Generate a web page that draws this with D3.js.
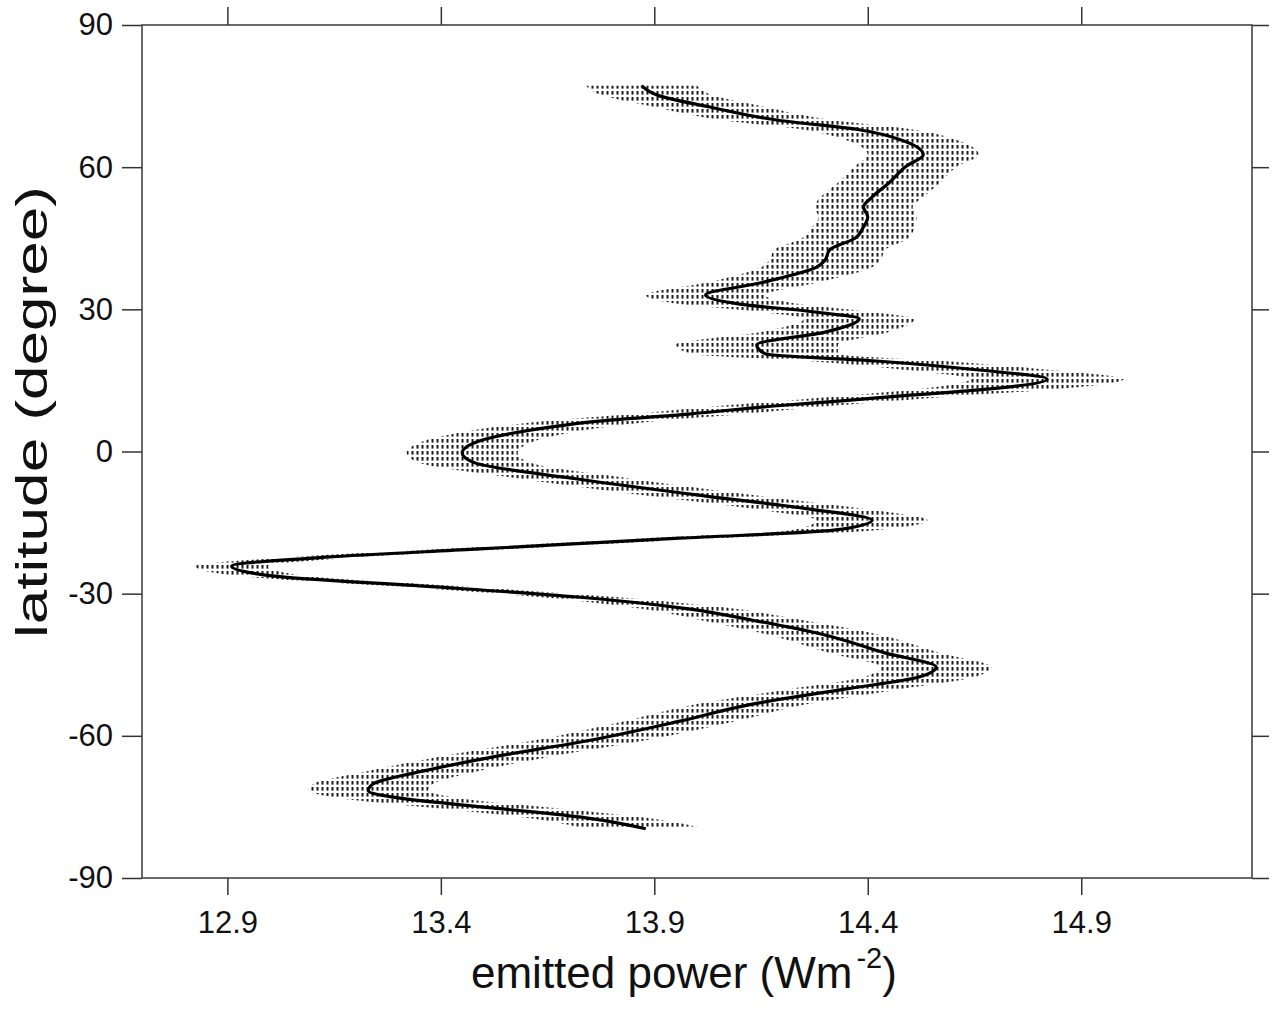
<!DOCTYPE html>
<html><head><meta charset="utf-8">
<script src="https://cdn.jsdelivr.net/npm/d3@7"></script>
<style>
body{margin:0;background:#fff}
svg{display:block}
text{font-family:"Liberation Sans",Arial,Helvetica,sans-serif;fill:#111}
</style>
</head><body>
<svg id="chart" width="1274" height="1010"></svg>
<script>
// latitude (degree) of each sample
const latitude = [77.2,75.1,72.7,69.9,67.9,65.7,62.6,60.2,56.7,53.7,51.6,49.5,47.4,45.0,42.5,40.4,38.9,35.6,33.0,31.1,29.6,28.0,25.2,22.5,20.6,19.1,17.2,15.3,13.0,11.9,10.7,9.6,7.9,6.4,5.2,3.9,2.2,-0.3,-2.4,-5.8,-9.4,-12.1,-14.5,-16.6,-18.3,-20.6,-22.3,-24.2,-26.3,-28.4,-30.7,-33.2,-35.6,-38.5,-42.5,-45.5,-47.6,-50.1,-53.3,-56.9,-61.1,-64.5,-67.4,-70.2,-71.6,-73.1,-75.2,-77.3,-79.6];
// emitted power (W m^-2)
const power = [13.87,13.91,14.03,14.19,14.38,14.48,14.53,14.49,14.45,14.41,14.39,14.40,14.39,14.37,14.31,14.30,14.28,14.15,14.02,14.10,14.26,14.38,14.30,14.14,14.16,14.42,14.66,14.82,14.66,14.50,14.34,14.18,13.98,13.77,13.66,13.57,13.49,13.45,13.48,13.72,14.02,14.26,14.41,14.32,13.96,13.48,13.13,12.91,13.01,13.36,13.72,13.98,14.13,14.29,14.44,14.56,14.52,14.35,14.13,13.96,13.74,13.52,13.36,13.24,13.23,13.30,13.52,13.74,13.88];
// half-width of the stippled uncertainty band (W m^-2)
const powerErr = [0.13,0.13,0.13,0.13,0.13,0.13,0.13,0.12,0.12,0.12,0.115,0.115,0.12,0.125,0.13,0.13,0.13,0.13,0.14,0.14,0.13,0.13,0.15,0.19,0.17,0.16,0.17,0.18,0.16,0.14,0.13,0.13,0.13,0.13,0.13,0.13,0.13,0.13,0.13,0.13,0.13,0.13,0.13,0.10,0.08,0.08,0.08,0.085,0.08,0.08,0.09,0.11,0.12,0.13,0.13,0.13,0.13,0.13,0.13,0.13,0.13,0.13,0.13,0.14,0.14,0.14,0.14,0.14,0.14];
const xTicks = [12.9,13.4,13.9,14.4,14.9];
const xTickLabels = ["12.9","13.4","13.9","14.4","14.9"];
const yTicks = [90,60,30,0,-30,-60,-90];
const yTickLabels = ["90","60","30","0","-30","-60","-90"];

const data = latitude.map((lat,i)=>({lat, p:power[i], e:powerErr[i]}));

const svg = d3.select("#chart");
const L=142, R=1252, T=25, B=878;
const x = d3.scaleLinear().domain([12.7,15.3]).range([L,R]);
const y = d3.scaleLinear().domain([-90,90]).range([B,T]);

const defs = svg.append("defs");
const pat = defs.append("pattern").attr("id","stip").attr("patternUnits","userSpaceOnUse")
  .attr("width",5).attr("height",6);
pat.append("rect").attr("x",1.5).attr("y",1).attr("width",2).attr("height",3.6).attr("fill","#1a1a1a");

// band
const area = d3.area()
  .y(d=>y(d.lat)).x0(d=>x(d.p-d.e)).x1(d=>x(d.p+d.e))
  .curve(d3.curveMonotoneY);
svg.append("path").datum(data).attr("d",area).attr("fill","url(#stip)");

// line
const line = d3.line().x(d=>x(d.p)).y(d=>y(d.lat)).curve(d3.curveMonotoneY);
svg.append("path").datum(data).attr("d",line)
  .attr("fill","none").attr("stroke","#000").attr("stroke-width",3.2).attr("stroke-linejoin","round");

// axes
const styleAxis = g => {
  g.select(".domain").remove();
  g.selectAll(".tick line").attr("stroke","#333").attr("stroke-width",1.5);
  g.selectAll("text").style("font-size","31px").attr("fill","#111");
};
svg.append("g").attr("transform",`translate(0,${B})`)
  .call(d3.axisBottom(x).tickValues(xTicks).tickFormat((d,i)=>xTickLabels[i]).tickSize(17).tickPadding(16))
  .call(styleAxis);
svg.append("g").attr("transform",`translate(0,${T})`)
  .call(d3.axisTop(x).tickValues(xTicks).tickFormat("").tickSize(18))
  .call(styleAxis);
svg.append("g").attr("transform",`translate(${L},0)`)
  .call(d3.axisLeft(y).tickValues(yTicks).tickFormat((d,i)=>yTickLabels[i]).tickSize(20).tickPadding(9))
  .call(styleAxis);
svg.append("g").attr("transform",`translate(${R},0)`)
  .call(d3.axisRight(y).tickValues(yTicks).tickFormat("").tickSize(17))
  .call(styleAxis);

// frame
svg.append("rect").attr("x",L).attr("y",T).attr("width",R-L).attr("height",B-T)
  .attr("fill","none").attr("stroke","#444").attr("stroke-width",1.6);

// titles
const xt = svg.append("text").attr("x",471).attr("y",988).style("font-size","44px");
xt.append("tspan").text("emitted power (Wm");
xt.append("tspan").attr("dy",-20).attr("dx",4).style("font-size","29px").text("-2");
xt.append("tspan").attr("dy",20).text(")");

svg.append("text").attr("transform","translate(47,412) rotate(-90)")
  .attr("text-anchor","middle").style("font-size","44px")
  .attr("textLength",452).attr("lengthAdjust","spacingAndGlyphs")
  .text("latitude (degree)");
</script>
</body></html>
